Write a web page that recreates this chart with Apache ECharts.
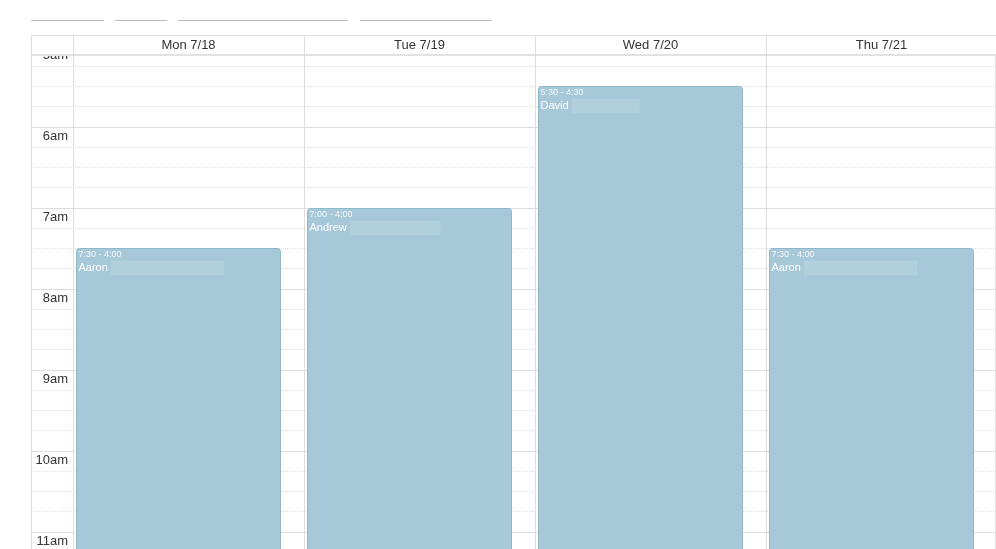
<!DOCTYPE html>
<html style="height: 100%">

<head>
    <meta charset="utf-8">
</head>

<body style="height: 100%; margin: 0; background: #fff">
    <div id="container" style="width: 996px; height: 549px"></div>

    <script type="text/javascript" src="https://cdn.jsdelivr.net/npm/echarts@6.0.0/dist/echarts.min.js"></script>

    <script type="text/javascript">

        var days = ['Mon 7/18', 'Tue 7/19', 'Wed 7/20', 'Thu 7/21'];
        var hourLabels = ['5am', '6am', '7am', '8am', '9am', '10am', '11am'];

        // one shift per day, hours as decimals (16 = 4pm)
        var shiftStart = [7.5, 7, 5.5, 7.5];
        var shiftEnd = [16, 16, 16.5, 16];
        var shiftTime = ['7:30 - 4:00', '7:00 - 4:00', '5:30 - 4:30', '7:30 - 4:00'];
        var shiftName = ['Aaron', 'Andrew', 'David', 'Aaron'];
        // surnames are blurred out in the original, keep only their length
        var surnameLen = [20, 16, 12, 20];

        var FONT = '"Liberation Sans", Arial, sans-serif';

        var dom = document.getElementById('container');
        var myChart = echarts.init(dom);
        var option;

        var shiftData = [];
        for (var i = 0; i < days.length; i++) {
            shiftData.push([i, shiftStart[i], shiftEnd[i]]);
        }

        function hourLabel(v) {
            if (v % 1 !== 0) return '';
            return hourLabels[v - 5] || '';
        }

        function hourAxis(gridIndex, withLabels) {
            return {
                type: 'value',
                gridIndex: gridIndex,
                inverse: true,
                min: 5,
                max: 11.25,
                interval: 1,
                z: 0,
                axisLine: { show: true, lineStyle: { color: '#ddd', width: 1 } },
                axisTick: { show: false },
                axisLabel: {
                    show: withLabels,
                    formatter: hourLabel,
                    color: '#333',
                    fontSize: 13,
                    fontFamily: FONT,
                    margin: 5,
                    verticalAlign: 'top',
                    padding: [3, 0, 0, 0]
                },
                splitLine: { show: true, lineStyle: { color: '#ddd', width: 1 } },
                minorTick: { show: false, splitNumber: 4 },
                minorSplitLine: { show: true, lineStyle: { color: '#ddd', width: 1, type: 'dotted' } }
            };
        }

        function renderShift(params, api) {
            var i = api.value(0);
            var top = api.coord([i, api.value(1)]);
            var bottom = api.coord([i, api.value(2)]);
            var band = api.size([1, 0])[0];
            var left = Math.round(top[0] - band / 2) + 3.5;
            var width = Math.round(band - 27);
            var y0 = Math.round(top[1]) + 0.5;
            return {
                type: 'group',
                children: [
                    {
                        type: 'rect',
                        shape: { x: left, y: y0, width: width, height: bottom[1] - y0, r: 3 },
                        style: { fill: '#a6c8d8', stroke: '#8fb8cb', lineWidth: 1 }
                    },
                    {
                        type: 'text',
                        style: {
                            text: shiftTime[i],
                            x: left + 2,
                            y: y0 + 6.5,
                            fill: '#f4f8fa',
                            font: '9px ' + FONT,
                            verticalAlign: 'middle'
                        }
                    },
                    {
                        type: 'text',
                        style: {
                            text: '{n|' + shiftName[i] + '} {b| }',
                            x: left + 2,
                            y: y0 + 19.5,
                            verticalAlign: 'middle',
                            rich: {
                                n: { fill: '#fff', font: '11px ' + FONT },
                                b: {
                                    width: surnameLen[i] * 5.65,
                                    height: 15,
                                    backgroundColor: 'rgba(255,255,255,0.14)'
                                }
                            }
                        }
                    }
                ]
            };
        }

        option = {
            animation: false,
            backgroundColor: '#fff',
            grid: [
                // hour label column
                { left: 31, width: 42, top: 46, bottom: -3, containLabel: false, outerBoundsMode: 'none' },
                // day columns, the last one runs just past the window edge
                { left: 73, right: -1, top: 46, bottom: -3, containLabel: false, outerBoundsMode: 'none' }
            ],
            xAxis: [
                { type: 'value', gridIndex: 0, show: false, min: 0, max: 1 },
                {
                    type: 'category',
                    gridIndex: 1,
                    data: days,
                    position: 'top',
                    boundaryGap: true,
                    z: 5,
                    axisLine: { show: false },
                    axisTick: { show: true, length: 11, interval: 0, lineStyle: { color: '#ddd' } },
                    axisLabel: {
                        interval: 0,
                        color: '#333',
                        fontSize: 13,
                        fontFamily: FONT,
                        margin: 0.5,
                        verticalAlign: 'middle'
                    },
                    splitLine: { show: true, interval: 0, lineStyle: { color: '#ddd', width: 1 } }
                }
            ],
            yAxis: [hourAxis(0, false), hourAxis(1, true)],
            series: [
                {
                    type: 'custom',
                    xAxisIndex: 1,
                    yAxisIndex: 1,
                    z: 2,
                    clip: true,
                    renderItem: renderShift,
                    data: shiftData
                }
            ],
            graphic: [
                // toolbar buttons, only their lower edge is in view
                { type: 'line', z: 4, shape: { x1: 31, y1: 20.5, x2: 104, y2: 20.5 }, style: { stroke: '#bbb', lineWidth: 1 } },
                { type: 'line', z: 4, shape: { x1: 115, y1: 20.5, x2: 167, y2: 20.5 }, style: { stroke: '#bbb', lineWidth: 1 } },
                { type: 'line', z: 4, shape: { x1: 178, y1: 20.5, x2: 348, y2: 20.5 }, style: { stroke: '#bbb', lineWidth: 1 } },
                { type: 'line', z: 4, shape: { x1: 360, y1: 20.5, x2: 492, y2: 20.5 }, style: { stroke: '#bbb', lineWidth: 1 } },
                // day header band
                {
                    type: 'rect', z: 3,
                    shape: { x: 31.5, y: 35.5, width: 980, height: 19 },
                    style: { fill: '#fff', stroke: '#ddd', lineWidth: 1 }
                },
                { type: 'line', z: 4, shape: { x1: 31, y1: 55, x2: 996, y2: 55 }, style: { stroke: '#e2e2e2', lineWidth: 2 } },
                // scroller edge on the right
                { type: 'line', z: 4, shape: { x1: 995.5, y1: 55, x2: 995.5, y2: 549 }, style: { stroke: '#e2e2e2', lineWidth: 1 } }
            ]
        };

        if (option && typeof option === 'object') {
            myChart.setOption(option);
        }

    </script>
</body>

</html>
